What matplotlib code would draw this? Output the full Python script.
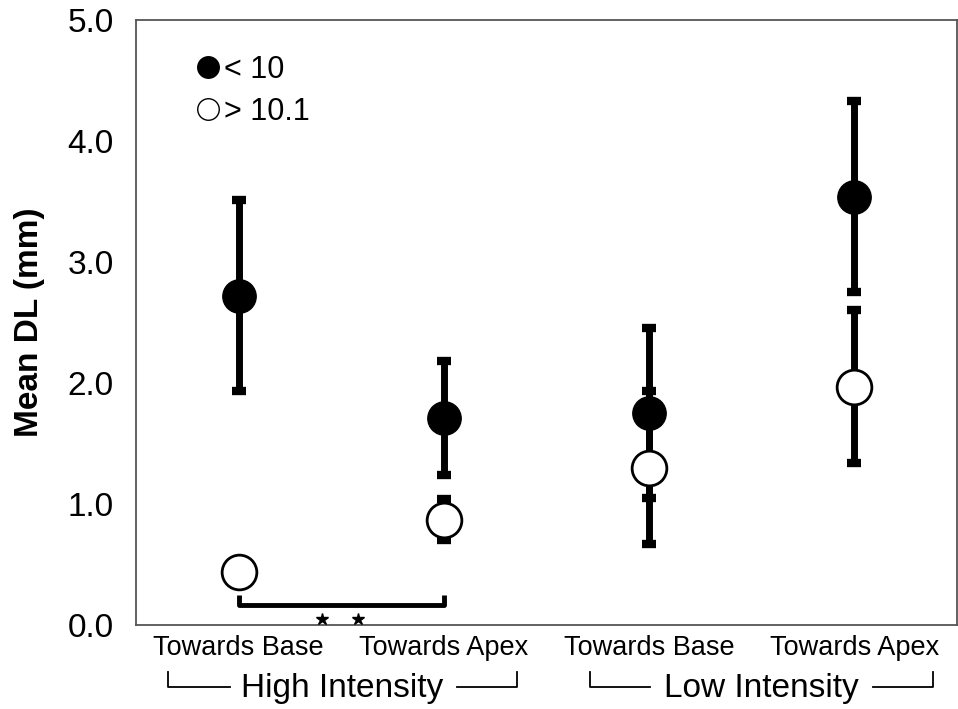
import matplotlib
matplotlib.use("Agg")
import matplotlib.pyplot as plt
from matplotlib.lines import Line2D
import matplotlib.transforms as mtransforms

plt.rcParams['font.family'] = ['Liberation Sans', 'DejaVu Sans']

# data
positions = [0.5, 1.5, 2.5, 3.5]
tick_labels = ["Towards Base", "Towards Apex", "Towards Base", "Towards Apex"]
groups = ["High Intensity", "Low Intensity"]

low_mean = [2.72, 1.71, 1.75, 3.54]       # < 10 (filled)
low_err = [0.79, 0.47, 0.70, 0.79]
high_mean = [0.44, 0.87, 1.30, 1.97]      # > 10.1 (open)
high_err = [0.0, 0.17, 0.63, 0.63]

fig = plt.figure(figsize=(9.58, 7.09), dpi=100)
ax = fig.add_axes([0.142, 0.1185, 0.857, 0.8535])

bar_kw = dict(fmt='none', ecolor='black', elinewidth=5, capsize=5, capthick=6, zorder=2)
ax.errorbar(positions, low_mean, yerr=low_err, **bar_kw)
ax.errorbar([p for p, e in zip(positions, high_err) if e > 0],
            [m for m, e in zip(high_mean, high_err) if e > 0],
            yerr=[e for e in high_err if e > 0], **bar_kw)

ax.plot(positions, low_mean, 'o', ms=24, mfc='black', mec='black', ls='none', zorder=4)
ax.plot(positions, high_mean, 'o', ms=25, mfc='white', mec='black', mew=2, ls='none', zorder=4)

# significance bracket
ax.plot([0.5, 0.5, 1.5, 1.5], [0.248, 0.165, 0.165, 0.248], color='black', lw=3.5,
        solid_capstyle='butt', zorder=3)
ax.plot([0.906, 1.082], [0.05, 0.05], ls='none', marker='*', ms=9, color='black',
        clip_on=False, zorder=3)

ax.set_xlim(0, 4)
ax.set_ylim(0, 5)
ax.set_yticks([0, 1, 2, 3, 4, 5])
ax.set_yticklabels(["0.0", "1.0", "2.0", "3.0", "4.0", "5.0"], fontsize=24)
ax.set_xticks(positions)
ax.set_xticklabels(tick_labels, fontsize=19.5)
ax.tick_params(axis='both', length=0)
ax.tick_params(axis='y', pad=16)
ax.tick_params(axis='x', pad=7)
ax.set_ylabel("Mean DL (mm)", fontsize=24, fontweight='bold', labelpad=16)

for sp in ax.spines.values():
    sp.set_color('#555555')
    sp.set_linewidth(1.3)

# group brackets under the tick labels
trans = mtransforms.blended_transform_factory(ax.transData, ax.transAxes)
brackets = [(0.156, 0.458, 1.564, 1.856), (2.212, 2.504, 3.59, 3.883)]
for name, (a, b, c, d) in zip(groups, brackets):
    ax.plot([a, a, b], [-0.077, -0.1025, -0.1025], color='black', lw=1.3,
            transform=trans, clip_on=False)
    ax.plot([c, d, d], [-0.1025, -0.1025, -0.077], color='black', lw=1.3,
            transform=trans, clip_on=False)
    ax.text((a + d) / 2, -0.119, name, fontsize=24, ha='center', va='baseline',
            transform=trans)

handles = [
    Line2D([], [], marker='o', ls='none', ms=15.5, mfc='black', mec='black'),
    Line2D([], [], marker='o', ls='none', ms=15.5, mfc='white', mec='black', mew=1),
]
ax.legend(handles, ["< 10", "> 10.1"], loc='upper left', bbox_to_anchor=(0.048, 0.978),
          frameon=False, fontsize=22, handlelength=0.7, handletextpad=0.2,
          labelspacing=0.4, borderpad=0.2)

fig.savefig("out.png", dpi=100)
